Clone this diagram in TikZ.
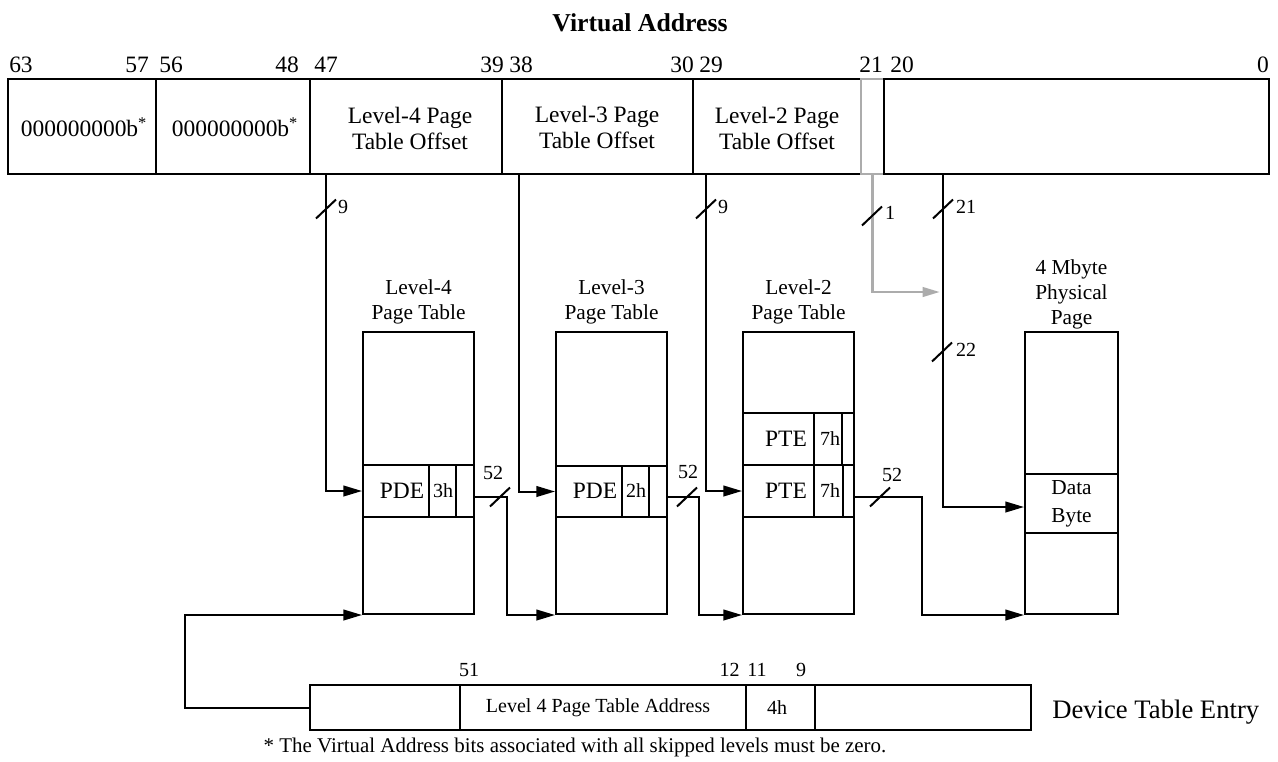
\documentclass[tikz,border=0pt]{standalone}
\usepackage{fontspec}
\setmainfont{Liberation Serif}
\usetikzlibrary{fit,arrows.meta}
\newcommand{\szbar}{\fontsize{17.6}{19.5}\selectfont}
\newcommand{\szttl}{\fontsize{16}{18.8}\selectfont}
\newcommand{\szsm}{\fontsize{15}{18}\selectfont}
\newcommand{\szdata}{\fontsize{16}{21}\selectfont}
\newcommand{\szhead}{\bfseries\fontsize{19.3}{23}\selectfont}
\newcommand{\szdte}{\fontsize{20}{24}\selectfont}
\newcommand{\sznote}{\fontsize{15.7}{18}\selectfont}
\begin{document}
\begin{tikzpicture}[x=0.75pt,y=-0.75pt,
  bx/.style={draw, line width=1.5pt, inner sep=0pt},
  gry/.style={draw=gray!65, line width=2.2pt, inner sep=0pt},
  arr/.style={line width=1.5pt, -{Triangle[length=14pt,width=8pt]}},
  garr/.style={draw=gray!65, line width=2.2pt, -{Triangle[length=13pt,width=7pt]}},
  slash/.style={line width=1.5pt},
  lab/.style={inner sep=0pt, font=\szsm},
  txt/.style={inner sep=0pt, align=center},
  num/.style={inner sep=0pt, font=\szbar}]
\useasboundingbox (0,0) rectangle (1278,761);

% title
\node[inner sep=0pt, font=\szhead] (title) at (640,23) {Virtual Address};

% virtual address bar
\node[bx, fit={(8,79) (156,174)}] (f63) {};
\node[bx, fit={(156,79) (310,174)}] (f56) {};
\node[bx, fit={(310,79) (502,174)}] (f47) {};
\node[bx, fit={(502,79) (693,174)}] (f38) {};
\node[bx, fit={(693,79) (861,174)}] (f29) {};
\node[gry, fit={(861,79) (884,174)}] (f21) {};
\node[bx, fit={(884,79) (1269,174)}] (f20) {};
\node[txt, font=\szbar] (x63) at (84,127) {000000000b\textsuperscript{*}};
\node[txt, font=\szbar] (x56) at (235,127) {000000000b\textsuperscript{*}};
\node[txt, font=\szbar] (x47) at (410,128) {Level-4 Page\\Table Offset};
\node[txt, font=\szbar] (x38) at (597,127) {Level-3 Page\\Table Offset};
\node[txt, font=\szbar] (x29) at (777,128) {Level-2 Page\\Table Offset};

% bit numbers
\node[num] (n63) at (21,65) {63};
\node[num] (n57) at (137,65) {57};
\node[num] (n56) at (171,65) {56};
\node[num] (n48) at (287,65) {48};
\node[num] (n47) at (326,65) {47};
\node[num] (n39) at (492,65) {39};
\node[num] (n38) at (521,65) {38};
\node[num] (n30) at (682,65) {30};
\node[num] (n29) at (711,65) {29};
\node[num] (n21) at (871,65) {21};
\node[num] (n20) at (902,65) {20};
\node[num] (n0) at (1263,65) {0};

% Level-4 table
\node[txt, font=\szttl] (t4t) at (418.5,302) {Level-4\\Page Table};
\node[bx, fit={(363,332) (474,614)}] (t4) {};
\node[bx, fit={(363,465) (429,517)}] (t4e) {};
\node[bx, fit={(429,465) (456,517)}] (t4i) {};
\node[bx, fit={(456,465) (474,517)}] (t4r) {};
\node[txt, font=\szbar] (x4e) at (402,491) {PDE};
\node[txt, font=\szsm] (x4i) at (443,491) {3h};

% Level-3 table
\node[txt, font=\szttl] (t3t) at (611.5,302) {Level-3\\Page Table};
\node[bx, fit={(556,332) (667,614)}] (t3) {};
\node[bx, fit={(556,466) (622,517)}] (t3e) {};
\node[bx, fit={(622,466) (649,517)}] (t3i) {};
\node[bx, fit={(649,466) (667,517)}] (t3r) {};
\node[txt, font=\szbar] (x3e) at (595,491) {PDE};
\node[txt, font=\szsm] (x3i) at (636,491) {2h};

% Level-2 table
\node[txt, font=\szttl] (t2t) at (798.5,302) {Level-2\\Page Table};
\node[bx, fit={(743,332) (854,614)}] (t2) {};
\node[bx, fit={(743,413) (814,465)}] (t2a) {};
\node[bx, fit={(814,413) (842,465)}] (t2ai) {};
\node[bx, fit={(842,413) (854,465)}] (t2ar) {};
\node[bx, fit={(743,465) (814,517)}] (t2b) {};
\node[bx, fit={(814,465) (843,517)}] (t2bi) {};
\node[bx, fit={(843,465) (854,517)}] (t2br) {};
\node[txt, font=\szbar] (x2a) at (786,439) {PTE};
\node[txt, font=\szsm] (x2ai) at (830,439) {7h};
\node[txt, font=\szbar] (x2b) at (786,491) {PTE};
\node[txt, font=\szsm] (x2bi) at (830,491) {7h};

% physical page
\node[txt, font=\szttl] (pht) at (1071.5,294) {4 Mbyte\\Physical\\Page};
\node[bx, fit={(1025,332) (1118,614)}] (ph) {};
\node[bx, fit={(1025,474) (1118,533)}] (pd) {};
\node[txt, font=\szdata] (xpd) at (1071.5,504) {Data\\Byte};

% device table entry
\node[bx, fit={(310,685) (460,730)}] (d1) {};
\node[bx, fit={(460,685) (746,730)}] (d2) {};
\node[bx, fit={(746,685) (815,730)}] (d3) {};
\node[bx, fit={(815,685) (1031,730)}] (d4) {};
\node[txt, font=\szsm] (xd2) at (598,708) {Level 4 Page Table Address};
\node[txt, font=\szsm] (xd3) at (777,708) {4h};
\node[lab] (d51) at (469,670) {51};
\node[lab, anchor=east] (d12) at (740,670) {12};
\node[lab, anchor=west] (d11) at (747,670) {11};
\node[lab] (d9) at (801,670) {9};
\node[inner sep=0pt, anchor=west, font=\szdte] (dte) at (1052,712) {Device Table Entry};
\node[inner sep=0pt, font=\sznote] (note) at (575,747) {* The Virtual Address bits associated with all skipped levels must be zero.};

% coordinates
\coordinate (s4) at (326,209);
\coordinate (a3) at (519,174);
\coordinate (s2) at (706,209);
\coordinate (sg) at (872,216);
\coordinate (ga) at (940,292);
\coordinate (so1) at (943,209);
\coordinate (so2) at (942,352);
\coordinate (p4) at (500,497);
\coordinate (p3) at (687,497);
\coordinate (p2) at (880,497);
\coordinate (b4) at (507,497);
\coordinate (b3) at (699,497);
\coordinate (b2) at (922,497);
\coordinate (fb) at (185,708);
\coordinate (pin) at (1025,507);

% index connectors
\draw[arr] (f47.south -| s4) |- (t4e.west);
\draw[arr] (a3) |- (t3e.west);
\draw[arr] (f29.south -| s2) |- (t2b.west);
\draw[garr] (f21.south) |- (ga);
\draw[arr] (f20.south -| so1) |- (pd.west |- pin);

% table outputs
\draw[arr] (t4.east |- b4) -- (b4) |- (t3.south west);
\draw[arr] (t3.east |- b3) -- (b3) |- (t2.south west);
\draw[arr] (t2.east |- b2) -- (b2) |- (ph.south west);
\draw[arr] (d1.west) -- (d1.west -| fb) |- (t4.south west);

% bus-width slashes
\draw[slash] (s4) ++(-10,9.5) -- ++(20,-19);
\draw[slash] (s2) ++(-10,9.5) -- ++(20,-19);
\draw[slash] (sg) ++(-10,9.5) -- ++(20,-19);
\draw[slash] (so1) ++(-10,9.5) -- ++(20,-19);
\draw[slash] (so2) ++(-10,9.5) -- ++(20,-19);
\draw[slash] (p4) ++(-10,9.5) -- ++(20,-19);
\draw[slash] (p3) ++(-10,9.5) -- ++(20,-19);
\draw[slash] (p2) ++(-10,9.5) -- ++(20,-19);
\node[lab] (l9a) at (343,207) {9};
\node[lab] (l9b) at (723,207) {9};
\node[lab] (l1) at (890,213) {1};
\node[lab] (l21) at (966,207) {21};
\node[lab] (l22) at (966,350) {22};
\node[lab] (l52a) at (493,473) {52};
\node[lab] (l52b) at (688,472) {52};
\node[lab] (l52c) at (892,475) {52};
\end{tikzpicture}
\end{document}
